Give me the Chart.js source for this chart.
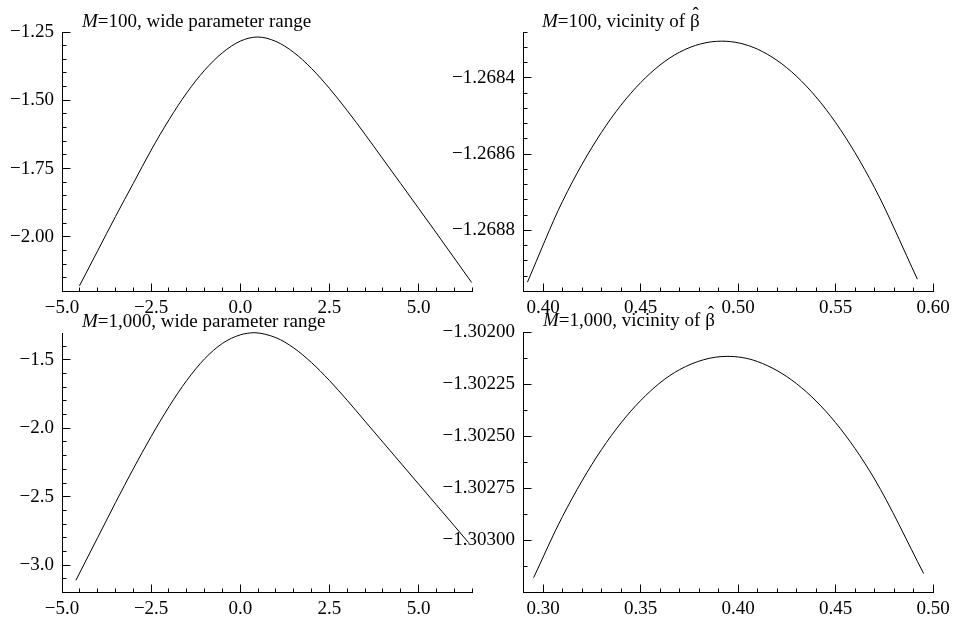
<!DOCTYPE html>
<html><head><meta charset="utf-8">
<script src="https://cdn.jsdelivr.net/npm/chart.js@4/dist/chart.umd.min.js"></script>
<style>
html,body{margin:0;padding:0;background:#fff;}
#wrap{position:relative;width:956px;height:624px;overflow:hidden;background:#fff;}
#wrap canvas{position:absolute;left:0;top:0;}
</style></head><body>
<div id="wrap">
<canvas id="c1" width="956" height="624"></canvas>
<canvas id="c2" width="956" height="624"></canvas>
<canvas id="c3" width="956" height="624"></canvas>
<canvas id="c4" width="956" height="624"></canvas>
</div>
<script>
// ---------- data ----------
// Panel 1: M=100, wide parameter range
const p1X = [-4.51, -4.0, -3.5, -3.0, -2.5, -2.0, -1.5, -1.0, -0.5, 0.0, 0.49, 1.0, 1.5, 2.0, 2.5, 3.0, 3.5, 4.0, 4.5, 5.0, 5.5, 6.0, 6.49];
const p1Y = [-2.179, -2.051, -1.9255, -1.804, -1.6825, -1.5715, -1.4725, -1.390, -1.326, -1.2835, -1.2683, -1.2846, -1.3246, -1.3836, -1.4561, -1.5376, -1.6246, -1.7146, -1.8046, -1.8951, -1.9856, -2.0771, -2.1668];
const p1XTicks = [-5.0, -2.5, 0.0, 2.5, 5.0];
const p1YTicks = [-2.00, -1.75, -1.50, -1.25];

// Panel 2: M=100, vicinity of beta-hat
const p2X = [0.392, 0.41, 0.43, 0.45, 0.47, 0.4916, 0.51, 0.53, 0.55, 0.57, 0.592];
const p2Y = [-1.268936, -1.268724, -1.268543, -1.268413, -1.268333, -1.268304, -1.268325, -1.268396, -1.268517, -1.268688, -1.268928];
const p2XTicks = [0.40, 0.45, 0.50, 0.55, 0.60];
const p2YTicks = [-1.2688, -1.2686, -1.2684];

// Panel 3: M=1,000, wide parameter range
const p3X = [-4.61, -4.0, -3.5, -3.0, -2.5, -2.0, -1.5, -1.0, -0.5, 0.0, 0.39, 1.0, 1.5, 2.0, 2.5, 3.0, 3.5, 4.0, 4.5, 5.0, 5.5, 6.0, 6.39];
const p3Y = [-3.1098, -2.7981, -2.5431, -2.2956, -2.0606, -1.8431, -1.6506, -1.4931, -1.3806, -1.3181, -1.3021, -1.3387, -1.4137, -1.5212, -1.6512, -1.7962, -1.9487, -2.1012, -2.2537, -2.4062, -2.5587, -2.7112, -2.8302];
const p3XTicks = [-5.0, -2.5, 0.0, 2.5, 5.0];
const p3YTicks = [-3.0, -2.5, -2.0, -1.5];

// Panel 4: M=1,000, vicinity of beta-hat
const p4X = [0.2952, 0.31, 0.33, 0.35, 0.37, 0.3944, 0.41, 0.43, 0.45, 0.47, 0.4952];
const p4Y = [-1.303180, -1.302886, -1.302565, -1.302330, -1.302181, -1.302117, -1.302142, -1.302248, -1.302435, -1.302706, -1.303160];
const p4XTicks = [0.30, 0.35, 0.40, 0.45, 0.50];
const p4YTicks = [-1.30300, -1.30275, -1.30250, -1.30225, -1.30200];

const titles = [
  ['M', '=100, wide parameter range', ''],
  ['M', '=100, vicinity of ', 'β'],
  ['M', '=1,000, wide parameter range', ''],
  ['M', '=1,000, vicinity of ', 'β']
];

// ---------- rendering ----------
const FONT = '"Liberation Serif", "Times New Roman", serif';
const FS = 19;
const XH = 30;
Chart.defaults.font.family = FONT;

function fmt(v, dec) {
  const s = Math.abs(v).toFixed(dec);
  return (v < -1e-12 ? '\u2212' : '') + s;
}
function al(p) { return Math.round(p - 0.5) + 0.5; }

function makeAnnot(cfg) {
  return {
    id: 'annot' + cfg.id,
    afterDraw(chart) {
      const ctx = chart.ctx, a = chart.chartArea;
      const xs = chart.scales.x, ys = chart.scales.y;
      ctx.save();
      ctx.strokeStyle = '#000'; ctx.lineWidth = 1;
      const yb = al(a.bottom), xl = al(a.left);
      ctx.beginPath();
      for (let k = Math.ceil(cfg.xMin / cfg.xMinor - 1e-6); k * cfg.xMinor <= cfg.xMax + 1e-9; k++) {
        const v = k * cfg.xMinor;
        const major = cfg.xTicks.some(t => Math.abs(t - v) < cfg.xMinor * 1e-3);
        const px = al(xs.getPixelForValue(v));
        ctx.moveTo(px, yb); ctx.lineTo(px, yb - (major ? 8 : 4));
      }
      for (let k = Math.ceil(cfg.yMin / cfg.yMinor - 1e-6); k * cfg.yMinor <= cfg.yMax + cfg.yMinor * 1e-6; k++) {
        const v = k * cfg.yMinor;
        const major = cfg.yTicks.some(t => Math.abs(t - v) < cfg.yMinor * 1e-3);
        const py = al(ys.getPixelForValue(v));
        ctx.moveTo(xl, py); ctx.lineTo(xl + (major ? 8 : 4), py);
      }
      ctx.stroke();
      const t = cfg.title;
      ctx.fillStyle = '#000'; ctx.textBaseline = 'alphabetic'; ctx.textAlign = 'left';
      let x = a.left + cfg.tdx; const y = a.top + cfg.tdy;
      ctx.font = 'italic ' + FS + 'px ' + FONT;
      ctx.fillText(t[0], x, y); x += ctx.measureText(t[0]).width;
      ctx.font = FS + 'px ' + FONT;
      ctx.fillText(t[1], x, y); x += ctx.measureText(t[1]).width;
      if (t[2]) {
        ctx.fillText(t[2], x, y);
        const w = ctx.measureText(t[2]).width;
        ctx.textAlign = 'center';
        ctx.fillText('\u02C6', x + w / 2 + 1, y - 7);
      }
      ctx.restore();
    }
  };
}

function makePanel(cfg) {
  const [L, T, R, B] = cfg.area;
  const YW = cfg.yw;
  return new Chart(document.getElementById(cfg.id), {
    type: 'line',
    data: { datasets: [{
      data: cfg.xs.map((x, i) => ({ x: x, y: cfg.ys[i] })),
      borderColor: '#000', borderWidth: 1, pointRadius: 0, fill: false,
      cubicInterpolationMode: 'monotone', clip: false
    }] },
    options: {
      responsive: false, animation: false, devicePixelRatio: 1,
      layout: { padding: { left: L - YW, top: T, right: 956 - R, bottom: 624 - B - XH } },
      plugins: { legend: { display: false }, tooltip: { enabled: false }, title: { display: false } },
      scales: {
        x: {
          type: 'linear', position: 'bottom', bounds: 'data', min: cfg.xMin, max: cfg.xMax,
          afterBuildTicks: s => { s.ticks = cfg.xTicks.map(v => ({ value: v })); },
          afterFit: s => { s.height = XH; },
          grid: { display: false, drawTicks: false },
          border: { display: true, color: '#000', width: 1 },
          ticks: { color: '#000', font: { family: FONT, size: FS }, padding: 6, maxRotation: 0, autoSkip: false,
                   callback: v => fmt(v, cfg.xDec) }
        },
        y: {
          type: 'linear', position: 'left', bounds: 'data', min: cfg.yMin, max: cfg.yMax,
          afterBuildTicks: s => { s.ticks = cfg.yTicks.map(v => ({ value: v })); },
          afterFit: s => { s.width = YW; },
          grid: { display: false, drawTicks: false },
          border: { display: true, color: '#000', width: 1 },
          ticks: { color: '#000', font: { family: FONT, size: FS }, padding: 8, autoSkip: false,
                   callback: v => fmt(v, cfg.yDec) }
        }
      }
    },
    plugins: [makeAnnot(cfg)]
  });
}

makePanel({ id: 'c1', area: [62, 32, 472, 291], yw: 60, xs: p1X, ys: p1Y,
  xMin: -5.0, xMax: 6.5, yMin: -2.198, yMax: -1.25, xTicks: p1XTicks, yTicks: p1YTicks,
  xMinor: 0.5, yMinor: 0.05, xDec: 1, yDec: 2, title: titles[0], tdx: 20, tdy: -5 });
makePanel({ id: 'c2', area: [523, 32, 933, 291], yw: 100, xs: p2X, ys: p2Y,
  xMin: 0.38974, xMax: 0.60, yMin: -1.268959, yMax: -1.26828, xTicks: p2XTicks, yTicks: p2YTicks,
  xMinor: 0.01, yMinor: 0.00004, xDec: 2, yDec: 4, title: titles[1], tdx: 19, tdy: -5 });
makePanel({ id: 'c3', area: [62, 333, 472, 592], yw: 60, xs: p3X, ys: p3Y,
  xMin: -5.0, xMax: 6.5, yMin: -3.195, yMax: -1.3047, xTicks: p3XTicks, yTicks: p3YTicks,
  xMinor: 0.5, yMinor: 0.1, xDec: 1, yDec: 1, title: titles[2], tdx: 20, tdy: -6 });
makePanel({ id: 'c4', area: [523, 332, 933, 592], yw: 100, xs: p4X, ys: p4Y,
  xMin: 0.28974, xMax: 0.50, yMin: -1.303249, yMax: -1.30200, xTicks: p4XTicks, yTicks: p4YTicks,
  xMinor: 0.01, yMinor: 0.000125, xDec: 2, yDec: 5, title: titles[3], tdx: 20, tdy: -6 });
</script>
</body></html>
